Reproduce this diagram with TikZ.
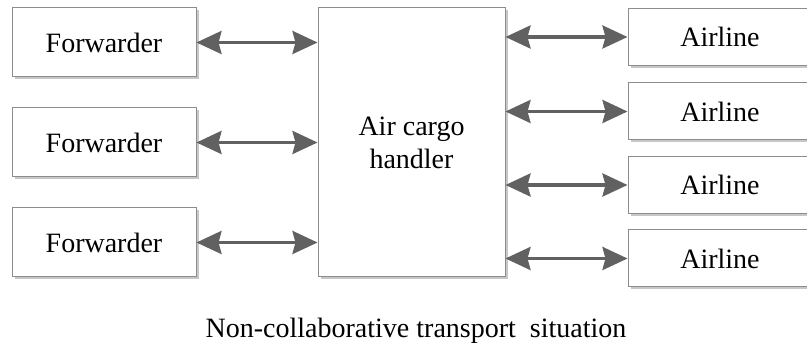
\documentclass[tikz,border=0pt]{standalone}
\usepackage{fontspec}
\setmainfont{Liberation Serif}
\usetikzlibrary{arrows.meta,shadows}
\tikzset{
  party/.style={draw=black!45, line width=1pt, fill=white, align=center,
    drop shadow={shadow xshift=2.5pt, shadow yshift=-2.5pt, fill=black!22, opacity=1},
    font=\fontsize{28}{33}\selectfont},
  link/.style={{Stealth[inset=3pt,length=25pt,width=23pt]}-{Stealth[inset=3pt,length=25pt,width=23pt]},
    line width=3.5pt, draw=black!62, fill=black!62}
}
\begin{document}
\begin{tikzpicture}[x=1pt,y=-1pt]
  \useasboundingbox (0,0) rectangle (807,347);
  % cargo handler in the middle
  \node[party, minimum width=187pt, minimum height=269pt] (handler) at (411.5,142.5) {Air cargo\\handler};
  % forwarders on the left
  \foreach \i/\y in {1/42.5,2/142.5,3/242.5} {
    \node[party, minimum width=184pt, minimum height=69pt] (fwd\i) at (104,\y) {Forwarder};
    \draw[link] (fwd\i.east) -- (handler.west |- fwd\i.east);
  }
  % airlines on the right
  \foreach \i/\y in {1/37,2/111.5,3/185,4/258.5} {
    \node[party, minimum width=184pt, minimum height=57pt] (air\i) at (720,\y) {Airline};
    \draw[link] (handler.east |- air\i.west) -- (air\i.west);
  }
  \node[font=\fontsize{28}{33}\selectfont] (caption) at (416,331) {Non-collaborative transport\ \ situation};
\end{tikzpicture}
\end{document}
